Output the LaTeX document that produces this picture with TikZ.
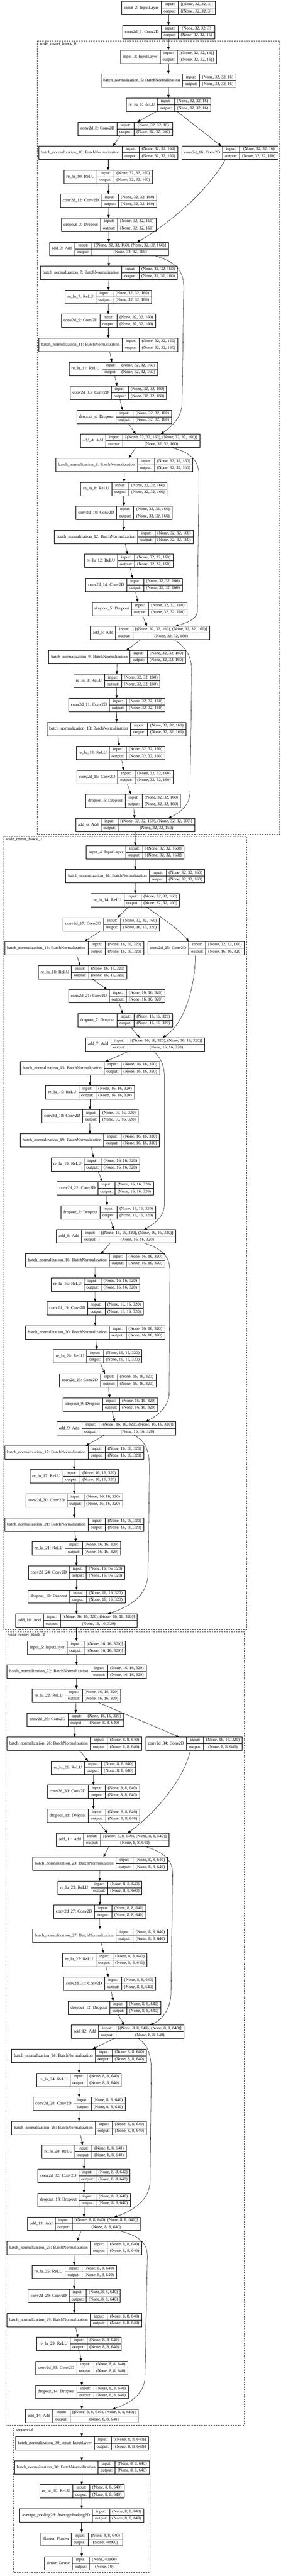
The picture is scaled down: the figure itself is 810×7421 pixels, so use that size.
\documentclass[tikz,border=0pt]{standalone}
\usepackage{fontspec}
\setmainfont{Liberation Serif}
\usetikzlibrary{arrows.meta}
\newcommand\lf{\fontsize{12.3pt}{14pt}\selectfont}
\setlength\arrayrulewidth{0.9pt}
\newcommand\ShA{(None, 32, 32, 3)}
\newcommand\ShB{(None, 32, 32, 16)}
\newcommand\ShC{(None, 32, 32, 160)}
\newcommand\ShD{(None, 16, 16, 320)}
\newcommand\ShE{(None, 8, 8, 640)}
\newcommand\AdC{[\ShC, \ShC]}
\newcommand\AdD{[\ShD, \ShD]}
\newcommand\AdE{[\ShE, \ShE]}
\newcommand\LbBN[1]{batch\_normalization\_#1: BatchNormalization}
\newcommand\LbRL[1]{re\_lu\_#1: ReLU}
\newcommand\LbCV[1]{conv2d\_#1: Conv2D}
\newcommand\LbDO[1]{dropout\_#1: Dropout}
\newcommand\LbAD[1]{add\_#1: Add}
\newcommand\rowstrut{\rule[-6.4pt]{0pt}{18.8pt}}
\tikzset{
  txt/.style={inner sep=0pt, outer sep=0pt, font=\lf, text height=8.7pt, text depth=2.7pt},
  rec/.style={draw, line width=0.9pt, inner sep=0pt, outer sep=0pt, rectangle, font=\lf},
  arr/.style={line width=0.8pt, -{Triangle[length=9pt,width=7pt]}},
  clus/.style={draw=black!75, line width=0.8pt, dash pattern=on 4pt off 3pt},
  clab/.style={txt, anchor=west}
}
\newcommand\lay[6]{%
  \node[rec] (#1) at (#2,#3) {\lf\begin{tabular}{@{\hspace{7pt}}c@{\hspace{7pt}}|@{}c@{}}%
    #4 & \begin{tabular}{@{\hspace{7pt}}c@{\hspace{7pt}}|@{\hspace{7pt}}c@{\hspace{7pt}}}%
      \rowstrut input: & #5\\ \hline
      \rowstrut output: & #6%
    \end{tabular}%
  \end{tabular}};%
}
\begin{document}
\begin{tikzpicture}[x=1pt,y=-1pt]
\useasboundingbox (0,0) rectangle (810,7421);
\fill[white] (0,0) rectangle (810,7421);
% clusters
\draw[clus] (107.5,117.8) rectangle (807,2402.7);
\node[clab] (lab0) at (114.3,127.3) {wide\_resnet\_block\_0};
\draw[clus] (10.4,2409.9) rectangle (710.9,4694.3);
\node[clab] (lab1) at (17,2418.9) {wide\_resnet\_block\_1};
\draw[clus] (17.2,4700.7) rectangle (704.6,6986.1);
\node[clab] (lab2) at (23.5,4709.7) {wide\_resnet\_block\_2};
\draw[clus] (39.1,6993.2) rectangle (432.7,7410.2);
\node[clab] (lab3) at (45.9,7002.2) {sequential};
% main
\lay{in2}{485.9}{22.9}{input\_2: InputLayer}{[\ShA]}{[\ShA]}
\lay{c7}{485.9}{92.1}{\LbCV{7}}{\ShA}{\ShB}
% block 0
\lay{in3}{485.6}{163.50}{input\_3: InputLayer}{[\ShB]}{[\ShB]}
\lay{bn6}{485.6}{232.66}{\LbBN{6}}{\ShB}{\ShB}
\lay{r6}{485.9}{301.82}{\LbRL{6}}{\ShB}{\ShB}
\lay{c8}{361.2}{370.98}{\LbCV{8}}{\ShB}{\ShC}
\lay{bn10}{311.8}{440.14}{\LbBN{10}}{\ShC}{\ShC}
\lay{c16}{662.8}{440.14}{\LbCV{16}}{\ShB}{\ShC}
\lay{r10}{311.8}{509.30}{\LbRL{10}}{\ShC}{\ShC}
\lay{c12}{312.9}{578.46}{\LbCV{12}}{\ShC}{\ShC}
\lay{d3}{313.2}{647.62}{\LbDO{3}}{\ShC}{\ShC}
\lay{ad3}{314.2}{716.78}{\LbAD{3}}{\AdC}{\ShC}
\lay{bn7}{313.9}{785.94}{\LbBN{7}}{\ShC}{\ShC}
\lay{r7}{312.1}{855.10}{\LbRL{7}}{\ShC}{\ShC}
\lay{c9}{312.4}{924.26}{\LbCV{9}}{\ShC}{\ShC}
\lay{bn11}{312.4}{993.42}{\LbBN{11}}{\ShC}{\ShC}
\lay{r11}{326.5}{1062.58}{\LbRL{11}}{\ShC}{\ShC}
\lay{c13}{341.6}{1131.74}{\LbCV{13}}{\ShC}{\ShC}
\lay{d4}{358.0}{1200.90}{\LbDO{4}}{\ShC}{\ShC}
\lay{ad4}{404.0}{1270.06}{\LbAD{4}}{\AdC}{\ShC}
\lay{bn8}{358.8}{1339.22}{\LbBN{8}}{\ShC}{\ShC}
\lay{r8}{357.3}{1408.38}{\LbRL{8}}{\ShC}{\ShC}
\lay{c10}{357.3}{1477.54}{\LbCV{10}}{\ShC}{\ShC}
\lay{bn12}{357.0}{1546.70}{\LbBN{12}}{\ShC}{\ShC}
\lay{r12}{371.1}{1615.86}{\LbRL{12}}{\ShC}{\ShC}
\lay{c14}{386.2}{1685.02}{\LbCV{14}}{\ShC}{\ShC}
\lay{d5}{402.4}{1754.18}{\LbDO{5}}{\ShC}{\ShC}
\lay{ad5}{432.4}{1823.34}{\LbAD{5}}{\AdC}{\ShC}
\lay{bn9}{337.7}{1892.50}{\LbBN{9}}{\ShC}{\ShC}
\lay{r9}{336.6}{1961.66}{\LbRL{9}}{\ShC}{\ShC}
\lay{c11}{336.4}{2030.82}{\LbCV{11}}{\ShC}{\ShC}
\lay{bn13}{335.9}{2099.98}{\LbBN{13}}{\ShC}{\ShC}
\lay{r13}{347.3}{2169.14}{\LbRL{13}}{\ShC}{\ShC}
\lay{c15}{360.4}{2238.30}{\LbCV{15}}{\ShC}{\ShC}
\lay{d6}{383.9}{2307.46}{\LbDO{6}}{\ShC}{\ShC}
\lay{ad6}{389.9}{2376.62}{\LbAD{6}}{\AdC}{\ShC}
% block 1
\lay{in4}{389.9}{2454.90}{input\_4: InputLayer}{[\ShC]}{[\ShC]}
\lay{bn14}{389.9}{2524.07}{\LbBN{14}}{\ShC}{\ShC}
\lay{r14}{389.9}{2593.24}{\LbRL{14}}{\ShC}{\ShC}
\lay{c17}{319.9}{2662.41}{\LbCV{17}}{\ShC}{\ShD}
\lay{bn18}{214.0}{2731.58}{\LbBN{18}}{\ShD}{\ShD}
\lay{c25}{565.0}{2731.58}{\LbCV{25}}{\ShC}{\ShD}
\lay{r18}{238.3}{2800.75}{\LbRL{18}}{\ShD}{\ShD}
\lay{c21}{336.1}{2869.92}{\LbCV{21}}{\ShD}{\ShD}
\lay{d7}{360.9}{2939.09}{\LbDO{7}}{\ShD}{\ShD}
\lay{ad7}{418.3}{3008.26}{\LbAD{7}}{\AdD}{\ShD}
\lay{bn15}{259.4}{3077.43}{\LbBN{15}}{\ShD}{\ShD}
\lay{r15}{259.4}{3146.60}{\LbRL{15}}{\ShD}{\ShD}
\lay{c18}{259.4}{3215.77}{\LbCV{18}}{\ShD}{\ShD}
\lay{bn19}{259.1}{3284.94}{\LbBN{19}}{\ShD}{\ShD}
\lay{r19}{274.5}{3354.11}{\LbRL{19}}{\ShD}{\ShD}
\lay{c22}{303.2}{3423.28}{\LbCV{22}}{\ShD}{\ShD}
\lay{d8}{311.6}{3492.45}{\LbDO{8}}{\ShD}{\ShD}
\lay{ad8}{334.6}{3561.62}{\LbAD{8}}{\AdD}{\ShD}
\lay{bn16}{274.3}{3630.79}{\LbBN{16}}{\ShD}{\ShD}
\lay{r16}{274.5}{3699.96}{\LbRL{16}}{\ShD}{\ShD}
\lay{c19}{274.3}{3769.13}{\LbCV{19}}{\ShD}{\ShD}
\lay{bn20}{274.3}{3838.30}{\LbBN{20}}{\ShD}{\ShD}
\lay{r20}{281.6}{3907.47}{\LbRL{20}}{\ShD}{\ShD}
\lay{c23}{310.5}{3976.64}{\LbCV{23}}{\ShD}{\ShD}
\lay{d9}{318.6}{4045.81}{\LbDO{9}}{\ShD}{\ShD}
\lay{ad9}{335.3}{4114.98}{\LbAD{9}}{\AdD}{\ShD}
\lay{bn17}{214.0}{4184.15}{\LbBN{17}}{\ShD}{\ShD}
\lay{r17}{213.7}{4253.32}{\LbRL{17}}{\ShD}{\ShD}
\lay{c20}{214.0}{4322.49}{\LbCV{20}}{\ShD}{\ShD}
\lay{bn21}{214.0}{4391.66}{\LbBN{21}}{\ShD}{\ShD}
\lay{r21}{220.5}{4460.83}{\LbRL{21}}{\ShD}{\ShD}
\lay{c24}{220.5}{4530.00}{\LbCV{24}}{\ShD}{\ShD}
\lay{d10}{220.8}{4599.17}{\LbDO{10}}{\ShD}{\ShD}
\lay{ad10}{220.5}{4668.34}{\LbAD{10}}{\AdD}{\ShD}
% block 2
\lay{in5}{220.5}{4746.50}{input\_5: InputLayer}{[\ShD]}{[\ShD]}
\lay{bn22}{220.8}{4815.67}{\LbBN{22}}{\ShD}{\ShD}
\lay{r22}{220.5}{4884.84}{\LbRL{22}}{\ShD}{\ShD}
\lay{c26}{217.1}{4954.01}{\LbCV{26}}{\ShD}{\ShE}
\lay{bn26}{214.0}{5023.18}{\LbBN{26}}{\ShE}{\ShE}
\lay{c34}{559.0}{5023.18}{\LbCV{34}}{\ShD}{\ShE}
\lay{r26}{269.6}{5092.35}{\LbRL{26}}{\ShE}{\ShE}
\lay{c30}{269.3}{5161.52}{\LbCV{30}}{\ShE}{\ShE}
\lay{d11}{269.3}{5230.69}{\LbDO{11}}{\ShE}{\ShE}
\lay{ad11}{324.9}{5299.86}{\LbAD{11}}{\AdE}{\ShE}
\lay{bn23}{288.1}{5369.03}{\LbBN{23}}{\ShE}{\ShE}
\lay{r23}{287.6}{5438.20}{\LbRL{23}}{\ShE}{\ShE}
\lay{c27}{287.6}{5507.37}{\LbCV{27}}{\ShE}{\ShE}
\lay{bn27}{288.1}{5576.54}{\LbBN{27}}{\ShE}{\ShE}
\lay{r27}{302.2}{5645.71}{\LbRL{27}}{\ShE}{\ShE}
\lay{c31}{316.3}{5714.88}{\LbCV{31}}{\ShE}{\ShE}
\lay{d12}{330.4}{5784.05}{\LbDO{12}}{\ShE}{\ShE}
\lay{ad12}{368.0}{5853.22}{\LbAD{12}}{\AdE}{\ShE}
\lay{bn24}{228.1}{5922.39}{\LbBN{24}}{\ShE}{\ShE}
\lay{r24}{228.1}{5991.56}{\LbRL{24}}{\ShE}{\ShE}
\lay{c28}{228.1}{6060.73}{\LbCV{28}}{\ShE}{\ShE}
\lay{bn28}{228.1}{6129.90}{\LbBN{28}}{\ShE}{\ShE}
\lay{r28}{242.2}{6199.07}{\LbRL{28}}{\ShE}{\ShE}
\lay{c32}{242.2}{6268.24}{\LbCV{32}}{\ShE}{\ShE}
\lay{d13}{242.2}{6337.41}{\LbDO{13}}{\ShE}{\ShE}
\lay{ad13}{242.2}{6406.58}{\LbAD{13}}{\AdE}{\ShE}
\lay{bn25}{214.0}{6475.75}{\LbBN{25}}{\ShE}{\ShE}
\lay{r25}{213.7}{6544.92}{\LbRL{25}}{\ShE}{\ShE}
\lay{c29}{214.0}{6614.09}{\LbCV{29}}{\ShE}{\ShE}
\lay{bn29}{214.0}{6683.26}{\LbBN{29}}{\ShE}{\ShE}
\lay{r29}{228.1}{6752.43}{\LbRL{29}}{\ShE}{\ShE}
\lay{c33}{235.9}{6821.60}{\LbCV{33}}{\ShE}{\ShE}
\lay{d14}{235.9}{6890.77}{\LbDO{14}}{\ShE}{\ShE}
\lay{ad14}{235.9}{6959.94}{\LbAD{14}}{\AdE}{\ShE}
% sequential
\lay{bn30i}{235.9}{7038.60}{batch\_normalization\_30\_input: InputLayer}{[\ShE]}{[\ShE]}
\lay{bn30}{235.9}{7107.76}{\LbBN{30}}{\ShE}{\ShE}
\lay{r30}{235.9}{7176.92}{\LbRL{30}}{\ShE}{\ShE}
\lay{avg}{235.6}{7246.08}{average\_pooling2d: AveragePooling2D}{\ShE}{\ShE}
\lay{flat}{235.6}{7315.24}{flatten: Flatten}{\ShE}{(None, 40960)}
\lay{dense}{235.9}{7384.40}{dense: Dense}{(None, 40960)}{(None, 10)}
% straight edges
\foreach \p/\q in {in2/c7, c7/in3, in3/bn6, bn6/r6, r6/c8, r6/c16, c8/bn10, bn10/r10, r10/c12, c12/d3, d3/ad3,
  ad3/bn7, bn7/r7, r7/c9, c9/bn11, bn11/r11, r11/c13, c13/d4, d4/ad4, ad4/bn8, bn8/r8, r8/c10, c10/bn12,
  bn12/r12, r12/c14, c14/d5, d5/ad5, ad5/bn9, bn9/r9, r9/c11, c11/bn13, bn13/r13, r13/c15, c15/d6, d6/ad6, ad6/in4,
  in4/bn14, bn14/r14, r14/c17, c17/bn18, bn18/r18, r18/c21, c21/d7, d7/ad7, ad7/bn15, bn15/r15, r15/c18,
  c18/bn19, bn19/r19, r19/c22, c22/d8, d8/ad8, ad8/bn16, bn16/r16, r16/c19, c19/bn20, bn20/r20, r20/c23,
  c23/d9, d9/ad9, ad9/bn17, bn17/r17, r17/c20, c20/bn21, bn21/r21, r21/c24, c24/d10, d10/ad10, ad10/in5,
  in5/bn22, bn22/r22, r22/c26, c26/bn26, bn26/r26, r26/c30, c30/d11, d11/ad11, ad11/bn23, bn23/r23, r23/c27,
  c27/bn27, bn27/r27, r27/c31, c31/d12, d12/ad12, ad12/bn24, bn24/r24, r24/c28, c28/bn28, bn28/r28, r28/c32,
  c32/d13, d13/ad13, ad13/bn25, bn25/r25, r25/c29, c29/bn29, bn29/r29, r29/c33, c33/d14, d14/ad14, ad14/bn30i,
  bn30i/bn30, bn30/r30, r30/avg, avg/flat, flat/dense}
  \draw[arr] (\p) -- (\q);
% skip connections, block 0
\draw[arr] ([xshift=-13pt]c16.south) .. controls (594.8,559.4) and (467,657.7) .. ([xshift=80.8pt]ad3.north);
\draw[arr] ([xshift=129.4pt]ad3.south) .. controls (510,755) and (530,780) .. (530,830) -- (525,1160) .. controls (525,1200) and (499,1226) .. ([xshift=59.5pt]ad4.north);
\draw[arr] ([xshift=89.2pt]ad4.south) .. controls (540,1300) and (574,1320) .. (574,1370) -- (569,1760) .. controls (569,1785) and (535,1795) .. ([xshift=72.8pt]ad5.north);
\draw[arr] ([xshift=67.6pt]ad5.south) .. controls (530,1858) and (553,1885) .. (553,1935) -- (548,2280) .. controls (548,2320) and (520,2340) .. ([xshift=95.5pt]ad6.north);
% block 1
\draw[arr] ([xshift=31.8pt]r14.south) .. controls (460,2640) and (515,2675) .. ([xshift=-20.6pt]c25.north);
\draw[arr] ([xshift=-1.3pt]c25.south) .. controls (562,2850) and (530,2950) .. ([xshift=51.4pt]ad7.north);
\draw[arr] ([xshift=24.3pt]ad7.south) .. controls (460,3045) and (474,3065) .. (474,3100) -- (474,3470) .. controls (474,3505) and (445,3525) .. ([xshift=80.4pt]ad8.north);
\draw[arr] ([xshift=80.4pt]ad8.south) .. controls (460,3595) and (490,3615) .. (490,3660) -- (488,4010) .. controls (488,4050) and (460,4075) .. ([xshift=84.8pt]ad9.north);
\draw[arr] ([xshift=49.9pt]ad9.south) .. controls (420,4150) and (431,4180) .. (431,4230) -- (427,4530) .. controls (427,4600) and (370,4630) .. ([xshift=90pt]ad10.north);
% block 2
\draw[arr] ([xshift=61.3pt]r22.south) -- ([xshift=-42.3pt]c34.north);
\draw[arr] ([xshift=-10pt]c34.south) .. controls (530,5130) and (440,5230) .. ([xshift=43.1pt]ad11.north);
\draw[arr] ([xshift=92.6pt]ad11.south) .. controls (470,5335) and (498,5355) .. (498,5400) -- (493,5740) .. controls (493,5790) and (465,5820) .. ([xshift=64.2pt]ad12.north);
\draw[arr] ([xshift=31.3pt]ad12.south) .. controls (425,5890) and (436,5920) .. (436,5960) -- (433,6280) .. controls (433,6340) and (380,6370) .. ([xshift=86.6pt]ad13.north);
\draw[arr] ([xshift=99.7pt]ad13.south) .. controls (400,6440) and (425,6460) .. (425,6500) -- (418,6850) .. controls (415,6900) and (370,6925) .. ([xshift=87.7pt]ad14.north);
\end{tikzpicture}
\end{document}
